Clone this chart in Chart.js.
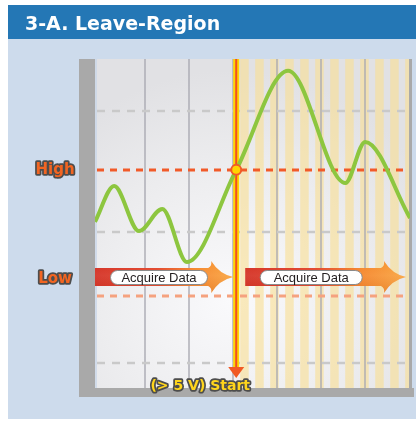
<!DOCTYPE html>
<html>
<head>
<meta charset="utf-8">
<script src="https://cdn.jsdelivr.net/npm/chart.js@4.4.1/dist/chart.umd.min.js"></script>
<style>
html,body{margin:0;padding:0;background:#ffffff;}
canvas{display:block;}
</style>
</head>
<body>
<canvas id="c" width="416" height="421"></canvas>
<script>
// ---- data ----
const titleText = "3-A. Leave-Region";
const curveX = [-1.4, 2.95, 8.6, 13.9, 19.5, 30.7, 42.5, 55.5, 60.0, 70.2];
const curveY = [50.5, 61.4, 47.7, 54.4, 38.3, 66.3, 96.4, 62.3, 74.8, 51.7];
const triggerIndex = 5;
const triggerX = 30.7;
const highLevel = 66.3;
const lowLevel = 28.0;
const refLevels = [84.2, 47.4, 7.6];
const gridXs = [10, 20, 30, 40, 50, 60];
const levelLabels = ["High", "Low"];
const phaseLabels = ["Acquire Data", "Acquire Data"];
const startLabel = "(> 5 V) Start";

function outlinedText(ctx, text, x, y, font, fill, stroke, lw, align) {
  ctx.save();
  ctx.font = font;
  ctx.textAlign = align || 'center';
  ctx.textBaseline = 'middle';
  ctx.lineJoin = 'round';
  ctx.lineWidth = lw;
  ctx.strokeStyle = stroke;
  ctx.strokeText(text, x, y);
  ctx.fillStyle = fill;
  ctx.fillText(text, x, y);
  ctx.restore();
}

function drawArrow(ctx, x0, tip, yc) {
  const bh = 9;
  const hh = 16;
  const hx = tip - 22;
  const g = ctx.createLinearGradient(x0, 0, tip, 0);
  g.addColorStop(0, '#d42f22');
  g.addColorStop(0.45, '#e2452a');
  g.addColorStop(0.72, '#f5852a');
  g.addColorStop(1, '#f9a43e');
  ctx.save();
  ctx.beginPath();
  ctx.moveTo(x0, yc - bh);
  ctx.lineTo(hx - 3, yc - bh);
  ctx.quadraticCurveTo(hx + 1, yc - bh - 2, hx, yc - hh);
  ctx.quadraticCurveTo(hx + 8, yc - 3, tip, yc);
  ctx.quadraticCurveTo(hx + 8, yc + 3, hx, yc + hh);
  ctx.quadraticCurveTo(hx + 1, yc + bh + 2, hx - 3, yc + bh);
  ctx.lineTo(x0, yc + bh);
  ctx.closePath();
  ctx.fillStyle = g;
  ctx.fill();
  const v = ctx.createLinearGradient(0, yc - hh, 0, yc + hh);
  v.addColorStop(0, 'rgba(255,255,255,0.0)');
  v.addColorStop(0.45, 'rgba(255,255,255,0.08)');
  v.addColorStop(1, 'rgba(120,20,0,0.10)');
  ctx.fillStyle = v;
  ctx.fill();
  ctx.restore();
}

function drawPill(ctx, cx, cy, w, h, text) {
  const x = cx - w / 2, y = cy - h / 2, r = h / 2;
  ctx.save();
  ctx.beginPath();
  ctx.moveTo(x + r, y);
  ctx.lineTo(x + w - r, y);
  ctx.arc(x + w - r, cy, r, -Math.PI / 2, Math.PI / 2);
  ctx.lineTo(x + r, y + h);
  ctx.arc(x + r, cy, r, Math.PI / 2, 3 * Math.PI / 2);
  ctx.closePath();
  ctx.fillStyle = '#ffffff';
  ctx.fill();
  ctx.strokeStyle = '#8a8a8a';
  ctx.lineWidth = 1;
  ctx.stroke();
  ctx.font = '13px "Liberation Sans", Arial, sans-serif';
  ctx.fillStyle = '#231f20';
  ctx.textAlign = 'center';
  ctx.textBaseline = 'middle';
  ctx.fillText(text, cx, cy + 0.5);
  ctx.restore();
}

const decor = {
  id: 'decor',
  beforeDraw(chart) {
    const ctx = chart.ctx;
    const a = chart.chartArea;
    const xs = chart.scales.x, ys = chart.scales.y;
    const W = chart.width, H = chart.height;
    ctx.save();
    ctx.fillStyle = '#ffffff';
    ctx.fillRect(0, 0, W, H);
    ctx.fillStyle = '#cddbec';
    ctx.fillRect(8, 39, W - 8, 380);
    ctx.fillStyle = '#2477b5';
    ctx.fillRect(8, 5, W - 8, 34);
    ctx.font = 'bold 19px "DejaVu Sans", Verdana, sans-serif';
    ctx.fillStyle = '#ffffff';
    ctx.textBaseline = 'alphabetic';
    ctx.textAlign = 'left';
    ctx.fillText(titleText, 25, 30);

    // plot background
    const trig = xs.getPixelForValue(triggerX);
    const rg = ctx.createRadialGradient(trig - 5, 300, 0, trig - 5, 300, 230);
    rg.addColorStop(0, '#fafafc');
    rg.addColorStop(0.6, '#ececee');
    rg.addColorStop(1, '#e1e1e4');
    ctx.fillStyle = rg;
    ctx.fillRect(a.left, a.top, a.right - a.left, a.bottom - a.top);

    // stripes after trigger
    ctx.fillStyle = 'rgba(248,222,148,0.62)';
    for (let sx = trig + 4; sx < a.right; sx += 15) {
      ctx.fillRect(sx, a.top, Math.min(8.5, a.right - sx), a.bottom - a.top);
    }

    // vertical grid lines
    ctx.strokeStyle = 'rgba(170,170,178,0.7)';
    ctx.lineWidth = 2;
    gridXs.forEach(v => {
      const px = Math.round(xs.getPixelForValue(v));
      ctx.beginPath();
      ctx.moveTo(px, a.top);
      ctx.lineTo(px, a.bottom);
      ctx.stroke();
    });
    ctx.strokeStyle = '#c9d6e8';
    ctx.lineWidth = 1.5;
    ctx.beginPath(); ctx.moveTo(a.left + 1, a.top); ctx.lineTo(a.left + 1, a.bottom); ctx.stroke();

    // gray reference dashed lines
    ctx.strokeStyle = '#c9c9c9';
    ctx.lineWidth = 2.5;
    ctx.setLineDash([8, 7]);
    refLevels.forEach(v => {
      const py = Math.round(ys.getPixelForValue(v));
      ctx.beginPath(); ctx.moveTo(a.left + 2, py); ctx.lineTo(a.right, py); ctx.stroke();
    });
    const hy = Math.round(ys.getPixelForValue(highLevel));
    ctx.strokeStyle = '#f15a29';
    ctx.lineWidth = 3;
    ctx.setLineDash([7, 6]);
    ctx.beginPath(); ctx.moveTo(a.left + 2, hy); ctx.lineTo(a.right, hy); ctx.stroke();
    const ly = Math.round(ys.getPixelForValue(lowLevel));
    ctx.strokeStyle = '#f5a27f';
    ctx.beginPath(); ctx.moveTo(a.left + 2, ly); ctx.lineTo(a.right, ly); ctx.stroke();
    ctx.setLineDash([]);

    // axis bars
    ctx.fillStyle = '#a9a9a9';
    ctx.fillRect(79, a.top, a.left - 79, a.bottom - a.top + 9);
    ctx.fillRect(79, a.bottom, a.right + 4 - 79, 9);
    ctx.fillRect(a.right - 1, a.top, 3, a.bottom - a.top);

    // acquire arrows
    const ay = ly - 19;
    drawArrow(ctx, a.left, trig - 3, ay);
    drawArrow(ctx, trig + 9, a.right - 4, ay);
    drawPill(ctx, a.left + 64, ay + 0.5, 97, 14, phaseLabels[0]);
    drawPill(ctx, trig + 75, ay + 0.5, 102, 14, phaseLabels[1]);

    // level labels
    outlinedText(ctx, levelLabels[0], 55, hy, 'bold 15px "DejaVu Sans", sans-serif', '#f26522', '#4d4d4d', 3.5);
    outlinedText(ctx, levelLabels[1], 55, ay + 2, 'bold 15px "DejaVu Sans", sans-serif', '#f26522', '#4d4d4d', 3.5);

    // trigger line
    ctx.fillStyle = '#ffd400';
    ctx.fillRect(trig - 3, a.top, 6, a.bottom - 20 - a.top);
    ctx.fillStyle = '#f04e23';
    ctx.fillRect(trig - 1, a.top, 2, a.bottom - 20 - a.top);
    ctx.beginPath();
    ctx.moveTo(trig - 8, a.bottom - 21);
    ctx.lineTo(trig + 8, a.bottom - 21);
    ctx.lineTo(trig, a.bottom - 10);
    ctx.closePath();
    ctx.fillStyle = '#f15a24';
    ctx.fill();
    ctx.restore();
  },
  afterDraw(chart) {
    const ctx = chart.ctx;
    const a = chart.chartArea;
    const trig = chart.scales.x.getPixelForValue(triggerX);
    outlinedText(ctx, startLabel, trig - 36, a.bottom - 2, 'bold 14px "DejaVu Sans", sans-serif', '#ffd51c', '#4d4d4d', 3.5);
  }
};

new Chart(document.getElementById('c'), {
  type: 'line',
  data: {
    datasets: [{
      data: curveX.map((x, i) => ({ x: x, y: curveY[i] })),
      borderColor: '#8dc63f',
      borderWidth: 4,
      cubicInterpolationMode: 'monotone',
      pointRadius: ctx => ctx.dataIndex === triggerIndex ? 5 : 0,
      pointHoverRadius: 0,
      pointBackgroundColor: '#ffd400',
      pointBorderColor: '#f05a28',
      pointBorderWidth: 2,
      fill: false
    }]
  },
  options: {
    responsive: false,
    animation: false,
    devicePixelRatio: 1,
    layout: { padding: { left: 95, right: 6, top: 59, bottom: 33 } },
    scales: {
      x: { type: 'linear', min: -1.4, max: 70.2, display: false },
      y: { type: 'linear', min: 0, max: 100, display: false }
    },
    plugins: { legend: { display: false }, tooltip: { enabled: false } },
    events: []
  },
  plugins: [decor]
});
</script>
</body>
</html>
